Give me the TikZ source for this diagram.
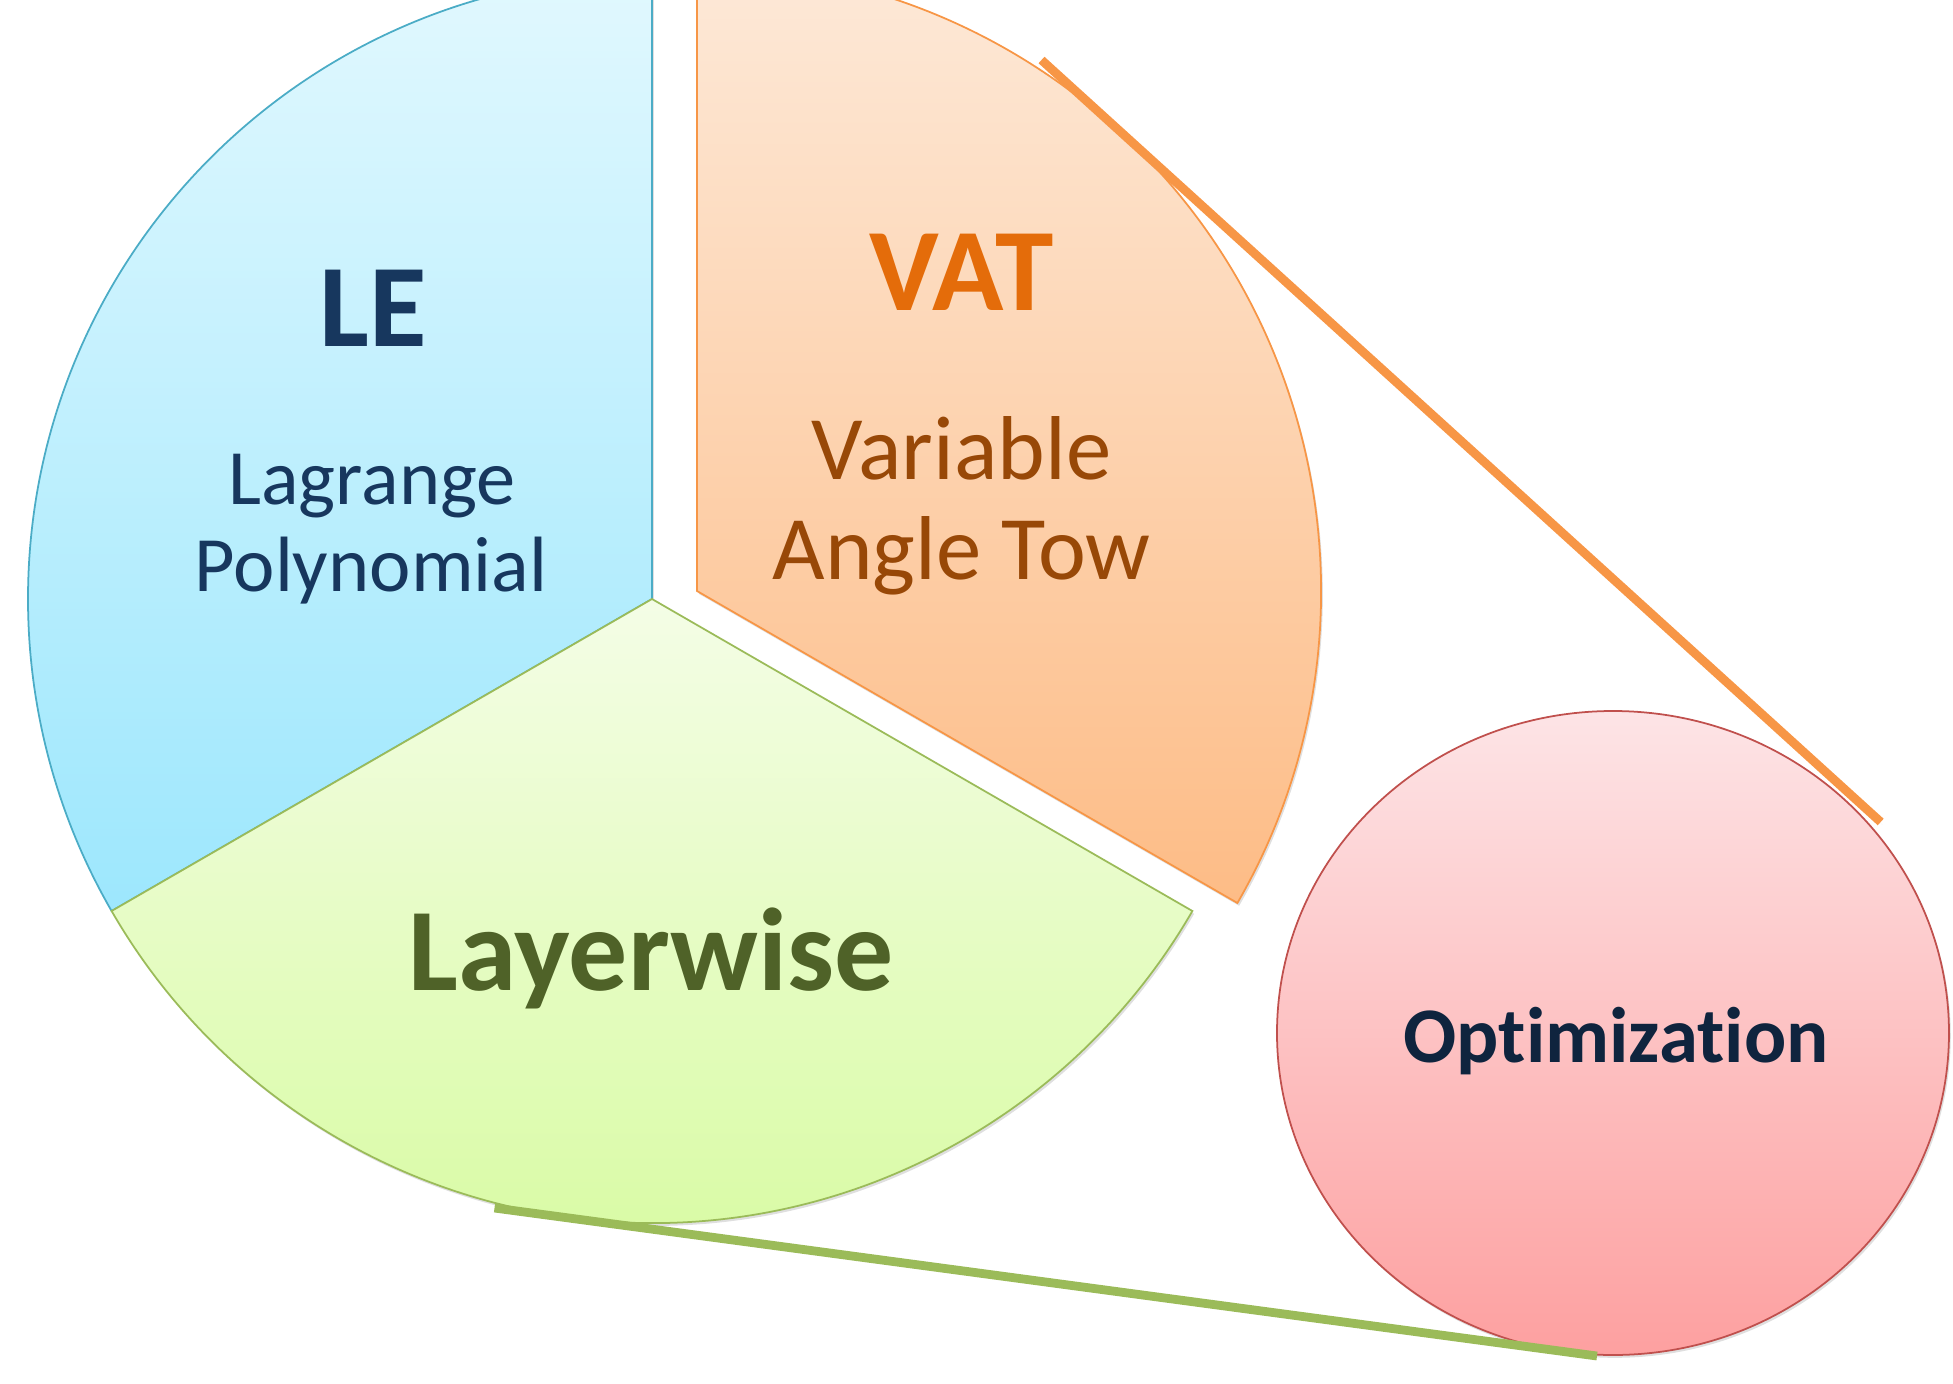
\documentclass[tikz,border=0pt]{standalone}
\usepackage{fontspec}
\setmainfont[Ligatures=NoCommon]{Carlito}
\usetikzlibrary{shadows}

\definecolor{leline}{HTML}{4BACC6}
\definecolor{letop}{HTML}{E1F8FE}
\definecolor{lebot}{HTML}{9DE7FD}
\definecolor{lecol}{HTML}{17375E}
\definecolor{vatline}{HTML}{F79646}
\definecolor{vattop}{HTML}{FDE9D8}
\definecolor{vatbot}{HTML}{FDBC86}
\definecolor{vatcol}{HTML}{E46C0A}
\definecolor{vatsub}{HTML}{984807}
\definecolor{lwline}{HTML}{9BBB59}
\definecolor{lwtop}{HTML}{F4FDE6}
\definecolor{lwbot}{HTML}{D6FB9E}
\definecolor{lwcol}{HTML}{4F6228}
\definecolor{optline}{HTML}{C0504D}
\definecolor{opttop}{HTML}{FDE4E6}
\definecolor{optbot}{HTML}{FDA0A0}
\definecolor{optcol}{HTML}{0F243E}

\begin{document}
\begin{tikzpicture}[x=0.01cm,y=0.01cm,
		slice/.style={line width=0.5pt, drop shadow={shadow xshift=0.5pt, shadow yshift=-0.8pt, opacity=0.25}},
		tangent/.style={line width=2.5pt, drop shadow={shadow xshift=0.5pt, shadow yshift=-0.8pt, opacity=0.2}},
		title/.style={anchor=base, font=\bfseries\fontsize{33.5}{40}\selectfont}]
	
	\useasboundingbox (0,0) rectangle (1953,-1384);
	\clip (0,0) rectangle (1953,-1384);
	
	\coordinate (C) at (652,-599);
	\coordinate (V) at (697,-591);
	\coordinate (O) at (1613,-1033);
	
	\draw[slice, draw=leline, top color=letop, bottom color=lebot] (C) -- ++(90:624) arc[start angle=90, end angle=210, radius=624] -- cycle;
	\draw[slice, draw=lwline, top color=lwtop, bottom color=lwbot] (C) -- ++(210:624) arc[start angle=210, end angle=330, radius=624] -- cycle;
	\draw[slice, draw=vatline, top color=vattop, bottom color=vatbot] (V) -- ++(-30:624) arc[start angle=-30, end angle=90, radius=624] -- cycle;
	\draw[slice, draw=optline, top color=opttop, bottom color=optbot] (O) ellipse [x radius=336, y radius=322];
	
	\coordinate (o1) at (1041.5,-60);
	\coordinate (o2) at (1880.7,-822);
	\coordinate (g1) at (494.5,-1208);
	\coordinate (g2) at (1597,-1356);
	\draw[tangent, vatline] (o1) -- (o2);
	\draw[tangent, lwline] (g1) -- (g2);
	
	\node[title, text=lecol] (le) at (373.6,-346) {LE};
	\node[anchor=base, font=\fontsize{22.3}{27}\selectfont, text=lecol] (lag) at (372,-504) {Lagrange};
	\node[anchor=base, font=\fontsize{22.3}{27}\selectfont, text=lecol] (poly) at (371,-591.6) {Polynomial};
	
	\node[title, text=vatcol] (vat) at (961.5,-310) {VAT};
	\node[anchor=base, font=\fontsize{25.8}{31}\selectfont, text=vatsub] (var) at (961.5,-479.5) {Variable};
	\node[anchor=base, font=\fontsize{25.8}{31}\selectfont, text=vatsub] (tow) at (961.5,-579) {Angle Tow};
	
	\node[title, text=lwcol] (lw) at (651,-990) {Layerwise};
	\node[anchor=base, font=\bfseries\fontsize{22.4}{27}\selectfont, text=optcol] (opt) at (1616,-1062) {Optimization};
	
\end{tikzpicture}
\end{document}
